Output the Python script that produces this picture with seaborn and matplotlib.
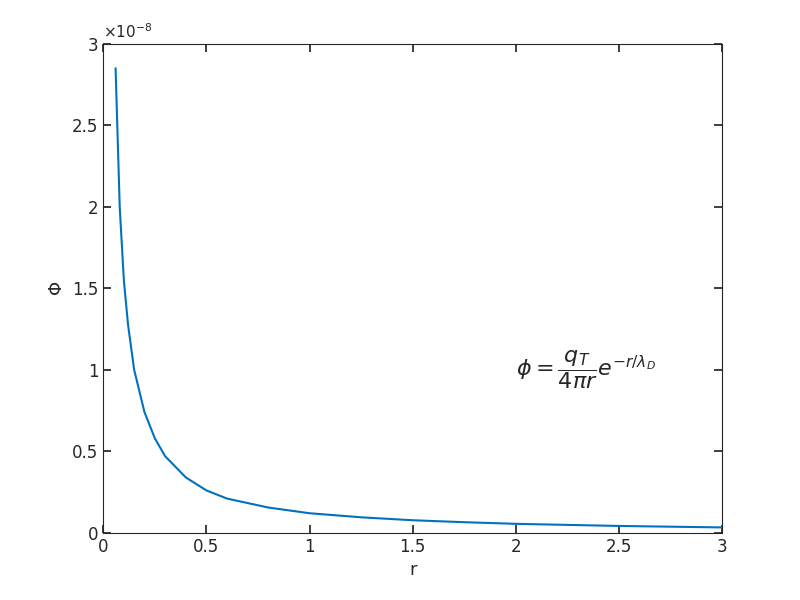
import matplotlib
matplotlib.use("Agg")
import matplotlib.pyplot as plt
import seaborn as sns
import pandas as pd

# values (potential in units of 1e-8)
r_vals = [0.06, 0.08, 0.1, 0.12, 0.15, 0.2, 0.25, 0.3, 0.4, 0.5, 0.6, 0.8,
          1.0, 1.25, 1.5, 1.75, 2.0, 2.5, 3.0]
phi_vals = [2.85, 2.0, 1.55, 1.28, 1.0, 0.74, 0.58, 0.47, 0.34, 0.26, 0.21,
            0.155, 0.12, 0.095, 0.077, 0.065, 0.055, 0.042, 0.033]
x_ticks = [0, 0.5, 1, 1.5, 2, 2.5, 3]
y_ticks = [0, 0.5, 1, 1.5, 2, 2.5, 3]

df = pd.DataFrame({"r": r_vals, "phi": [v * 1e-8 for v in phi_vals]})

sns.set_theme(style="ticks")
plt.rcParams["font.family"] = ["DejaVu Sans"]

fig = plt.figure(figsize=(8, 6), dpi=100)
ax = fig.add_axes([0.129, 0.112, 0.774, 0.815])
sns.lineplot(data=df, x="r", y="phi", color="#0072BD", linewidth=1.5, ax=ax)

ax.set_xlim(0, 3)
ax.set_ylim(0, 3e-8)
ax.set_xticks(x_ticks)
ax.set_xticklabels([f"{t:g}" for t in x_ticks])
ax.set_yticks([t * 1e-8 for t in y_ticks])
ax.set_yticklabels([f"{t:g}" for t in y_ticks])
ax.text(0.0, 1.005, r"$\times10^{-8}$", transform=ax.transAxes, fontsize=11,
        color="#262626", va="bottom")
ax.tick_params(direction="in", top=True, right=True, labelsize=12, colors="#262626")
for s in ax.spines.values():
    s.set_color("#262626")
    s.set_linewidth(0.8)
ax.set_xlabel("r", fontsize=13, color="#262626")
ax.set_ylabel(r"$\Phi$", fontsize=13, color="#262626")
ax.text(2.0, 1.0e-8, r"$\phi = \dfrac{q_T}{4\pi r}e^{-r/\lambda_D}$",
        fontsize=16, va="center")

fig.savefig("out.png")
